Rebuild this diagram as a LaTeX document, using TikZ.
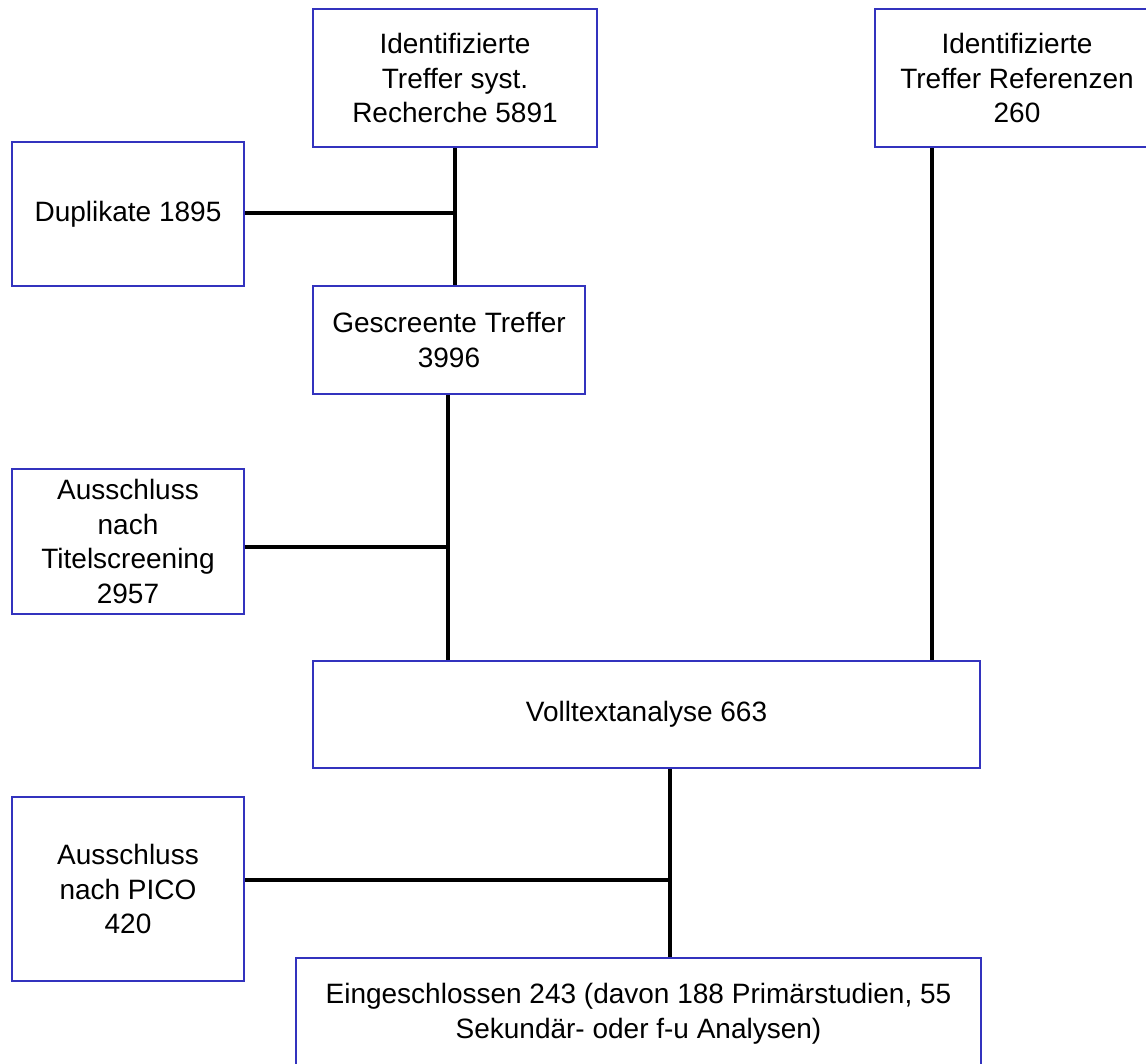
\documentclass[tikz,border=0pt]{standalone}
\usepackage{fontspec}
\setmainfont{Liberation Sans}
\definecolor{boxblue}{RGB}{51,51,190}
\begin{document}
\begin{tikzpicture}[x=1pt,y=-1pt,
  flowbox/.style={draw=boxblue,line width=2.8pt,fill=white,rectangle,inner sep=0pt,
    align=center,font=\fontsize{28}{34.5}\selectfont},
  link/.style={draw=black,line width=4pt}]
  \useasboundingbox (0,0) rectangle (1146,1063);

  % boxes
  \node[flowbox,minimum width=284,minimum height=138] (top) at (455,78)
    {Identifizierte\\Treffer syst.\\Recherche 5891};
  \node[flowbox,minimum width=284,minimum height=138] (ref) at (1017,78)
    {Identifizierte\\Treffer Referenzen\\260};
  \node[flowbox,minimum width=232,minimum height=144] (dup) at (128,214)
    {Duplikate 1895};
  \node[flowbox,minimum width=272,minimum height=108] (gescr) at (449,340)
    {Gescreente Treffer\\3996};
  \node[flowbox,minimum width=232,minimum height=145] (titel) at (128,541.5)
    {Ausschluss\\nach\\Titelscreening\\2957};
  \node[flowbox,minimum width=667,minimum height=107] (voll) at (646.5,714.5)
    {Volltextanalyse 663};
  \node[flowbox,minimum width=232,minimum height=184] (pico) at (128,889)
    {Ausschluss\\nach PICO\\420};
  \node[flowbox,minimum width=685,minimum height=111] (eing) at (638.5,1013.5)
    {Eingeschlossen 243 (davon 188 Primärstudien, 55\\Sekundär- oder f-u Analysen)};

  % junction points of the connectors
  \coordinate (j1) at (455,213);
  \coordinate (j2) at (448,547);
  \coordinate (j3) at (932,661);
  \coordinate (j4) at (670,880);

  % connectors
  \draw[link] (top.south) -- (top.south |- gescr.north);
  \draw[link] (dup.east |- j1) -- (j1);
  \draw[link] (gescr.south -| j2) -- (voll.north -| j2);
  \draw[link] (titel.east |- j2) -- (j2);
  \draw[link] (ref.south -| j3) -- (voll.north -| j3);
  \draw[link] (voll.south -| j4) -- (eing.north -| j4);
  \draw[link] (pico.east |- j4) -- (j4);
\end{tikzpicture}
\end{document}
